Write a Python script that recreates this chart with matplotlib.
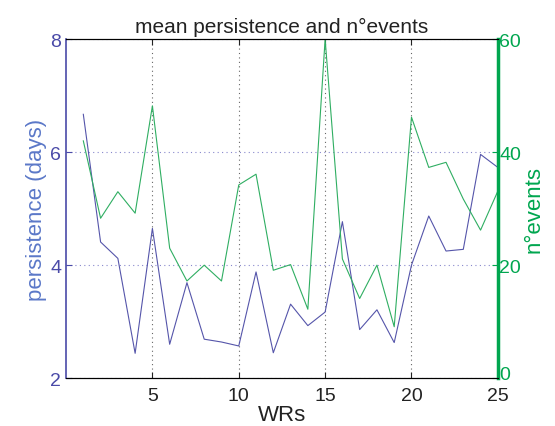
import matplotlib
matplotlib.use('Agg')
import matplotlib.pyplot as plt
import matplotlib.transforms as mtransforms

plt.rcParams['font.family'] = ['Liberation Sans', 'DejaVu Sans']

wrs = list(range(1, 26))
persistence = [6.67, 4.41, 4.12, 2.44, 4.65, 2.60, 3.69, 2.69, 2.64, 2.57,
               3.88, 2.45, 3.31, 2.93, 3.17, 4.77, 2.86, 3.21, 2.63, 4.00,
               4.87, 4.25, 4.28, 5.96, 5.73]
n_events = [42, 28.3, 33, 29.2, 48.2, 23, 17.2, 20, 17.2, 34.2,
            36.1, 19.1, 20.1, 12.2, 60, 21.1, 14.1, 20, 9.1, 46.2,
            37.3, 38.2, 31.7, 26.2, 33.1]

blue = '#4a4aa8'
green = '#00a64f'

fig = plt.figure(figsize=(5.55, 4.27), dpi=100)
ax = fig.add_axes([0.119, 0.112, 0.778, 0.794])
ax.plot(wrs, persistence, color='#5555aa', lw=0.8)
ax.set_xlim(0, 25)
ax.set_ylim(2, 8)
ax.set_xticks([5, 10, 15, 20, 25])
ax.set_yticks([2, 4, 6, 8])
ax.tick_params(axis='x', direction='in', top=True, labelsize=14, colors='#222222', length=4, pad=6)
ax.tick_params(axis='y', direction='in', labelsize=14, colors=blue, length=4)
ax.spines['left'].set_color(blue)
ax.spines['left'].set_linewidth(1.2)
ax.grid(axis='x', linestyle=(0, (1, 3)), color='#666666', lw=0.8)
ax.grid(axis='y', linestyle=(0, (1, 3)), color='#8888cc', lw=0.8)
ax.set_xlabel('WRs', fontsize=16, color='#222222', labelpad=0)
ax.set_ylabel('persistence (days)', fontsize=16, color='#5b78c8', labelpad=2)
ax.set_title('mean persistence and n°events', fontsize=15, color='#222222', pad=5)

ax2 = ax.twinx()
ax2.plot(wrs, n_events, color='#2fae62', lw=0.8)
ax2.set_ylim(0, 60)
ax2.set_yticks([0, 20, 40, 60])
ax2.tick_params(axis='y', direction='in', labelsize=14, colors=green, length=4, pad=1)
ax2.spines['right'].set_color(green)
ax2.spines['right'].set_linewidth(2.5)
ax2.spines['left'].set_visible(False)
ax2.set_ylabel('n°events', fontsize=16, color=green, labelpad=2)

# nudge the bottom right label up so it clears the "25"
fig.canvas.draw()
lab0 = ax2.get_yticklabels()[0]
lab0.set_transform(lab0.get_transform() + mtransforms.ScaledTranslation(0, 4 / 72, fig.dpi_scale_trans))

fig.savefig('out.png', dpi=100)
